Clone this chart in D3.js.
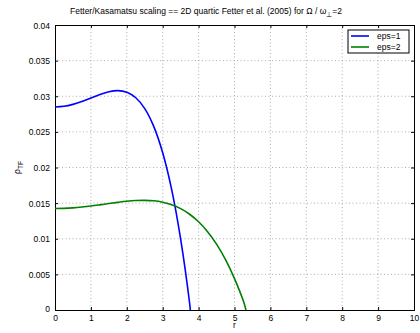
<!DOCTYPE html>
<html>
<head>
<meta charset="utf-8">
<script src="https://cdn.jsdelivr.net/npm/d3@7"></script>
<style>
  body { margin: 0; background: #fff; }
  svg { display: block; font-family: "Liberation Sans", Arial, sans-serif; }
</style>
</head>
<body>
<div id="chart"></div>
<script>
const width = 420
const height = 333
const margin = { top: 25, right: 6, bottom: 23, left: 55 }
const innerWidth = width - margin.left - margin.right
const innerHeight = height - margin.top - margin.bottom

// eps=1 profile
const rEps1 = [0, 0.25, 0.5, 0.75, 1, 1.25, 1.5, 1.75, 2, 2.25, 2.5, 2.75, 3, 3.25, 3.5, 3.75, 3.77]
const rhoEps1 = [0.02850, 0.02859, 0.02886, 0.02927, 0.02975, 0.03024, 0.03063, 0.03079, 0.03056,
  0.02979, 0.02827, 0.02578, 0.02207, 0.01690, 0.00996, 0.00095, 0]

// eps=2 profile
const rEps2 = [0, 0.25, 0.5, 0.75, 1, 1.25, 1.5, 1.75, 2, 2.25, 2.5, 2.75, 3, 3.25, 3.5, 3.75,
  4, 4.25, 4.5, 4.75, 5, 5.25, 5.32]
const rhoEps2 = [0.01425, 0.01427, 0.01434, 0.01445, 0.01459, 0.01476, 0.01494, 0.01511, 0.01526,
  0.01536, 0.01539, 0.01533, 0.01513, 0.01478, 0.01423, 0.01344, 0.01238, 0.01099, 0.00924,
  0.00706, 0.00441, 0.00122, 0]

const seriesNames = ['eps=1', 'eps=2']
const seriesColors = ['#0000ff', '#008000']
const xTicks = [0, 1, 2, 3, 4, 5, 6, 7, 8, 9, 10]
const yTicks = [0, 0.005, 0.01, 0.015, 0.02, 0.025, 0.03, 0.035, 0.04]

const series = [
  { name: seriesNames[0], color: seriesColors[0], pts: rEps1.map((r, i) => [r, rhoEps1[i]]) },
  { name: seriesNames[1], color: seriesColors[1], pts: rEps2.map((r, i) => [r, rhoEps2[i]]) }
]

const svg = d3.select('#chart').append('svg')
  .attr('width', width)
  .attr('height', height)

const xScale = d3.scaleLinear().domain([0, 10]).range([0, innerWidth])
const yScale = d3.scaleLinear().domain([0, 0.04]).range([innerHeight, 0])

const g = svg.append('g').attr('transform', `translate(${margin.left},${margin.top})`)

// grid
g.append('g').selectAll('line').data(xTicks.slice(1, -1)).join('line')
  .attr('x1', d => xScale(d)).attr('x2', d => xScale(d))
  .attr('y1', 0).attr('y2', innerHeight)
  .attr('stroke', '#999').attr('stroke-width', 0.8).attr('stroke-dasharray', '1,2.5')
g.append('g').selectAll('line').data(yTicks.slice(1, -1)).join('line')
  .attr('y1', d => yScale(d)).attr('y2', d => yScale(d))
  .attr('x1', 0).attr('x2', innerWidth)
  .attr('stroke', '#999').attr('stroke-width', 0.8).attr('stroke-dasharray', '1,2.5')

// axes, ticks pointing inward
const xAxis = g.append('g').attr('transform', `translate(0,${innerHeight})`)
  .call(d3.axisBottom(xScale).tickValues(xTicks).tickSize(-3).tickFormat(d3.format('d')))
const yAxis = g.append('g')
  .call(d3.axisLeft(yScale).tickValues(yTicks).tickSize(-3).tickFormat(d => d === 0 ? '0' : String(+d.toFixed(3))))
g.append('g').call(d3.axisTop(xScale).tickValues(xTicks).tickSize(-3).tickFormat(''))
g.append('g').attr('transform', `translate(${innerWidth},0)`)
  .call(d3.axisRight(yScale).tickValues(yTicks).tickSize(-3).tickFormat(''))
g.selectAll('.domain').attr('stroke', '#000').attr('stroke-width', 1)
g.selectAll('.tick line').attr('stroke', '#000')
g.selectAll('.tick text').attr('font-size', 8.5).attr('fill', '#000')
  .attr('font-family', '"Liberation Sans", Arial, sans-serif')
  .attr('dy', null)
xAxis.selectAll('.tick text').attr('y', 11)
yAxis.selectAll('.tick text').attr('x', -5).attr('y', 3)
yAxis.select('.tick text').attr('y', 1)

// the curves
const line = d3.line()
  .x(d => xScale(d[0]))
  .y(d => yScale(d[1]))
  .curve(d3.curveCatmullRom)
g.selectAll('path.curve').data(series).join('path')
  .attr('class', 'curve')
  .attr('d', d => line(d.pts))
  .attr('fill', 'none')
  .attr('stroke', d => d.color)
  .attr('stroke-width', 1.6)

// labels
svg.append('text')
  .attr('x', 206).attr('y', 14)
  .attr('text-anchor', 'middle').attr('font-size', 8.5)
  .html('Fetter/Kasamatsu scaling == 2D quartic Fetter et al. (2005) for Ω / ω<tspan font-size="6.5" dy="3">⊥</tspan><tspan dy="-3">=2</tspan>')

svg.append('text')
  .attr('x', margin.left + innerWidth / 2).attr('y', 328)
  .attr('text-anchor', 'middle').attr('font-size', 8.5)
  .text('r')

svg.append('text')
  .attr('transform', `translate(20,${margin.top + innerHeight / 2}) rotate(-90)`)
  .attr('text-anchor', 'middle').attr('font-size', 8.5)
  .html('ρ<tspan font-size="6.5" dy="3">TF</tspan>')

// legend
const legend = svg.append('g').attr('transform', 'translate(348,30)')
legend.append('rect')
  .attr('width', 61).attr('height', 23)
  .attr('fill', '#fff').attr('stroke', '#000').attr('stroke-width', 1)
series.forEach((s, i) => {
  const y = 6 + i * 11
  legend.append('line')
    .attr('x1', 3).attr('x2', 21).attr('y1', y).attr('y2', y)
    .attr('stroke', s.color).attr('stroke-width', 1.6)
  legend.append('text')
    .attr('x', 29).attr('y', y + 3)
    .attr('font-size', 8.5)
    .text(s.name)
})
</script>
</body>
</html>
